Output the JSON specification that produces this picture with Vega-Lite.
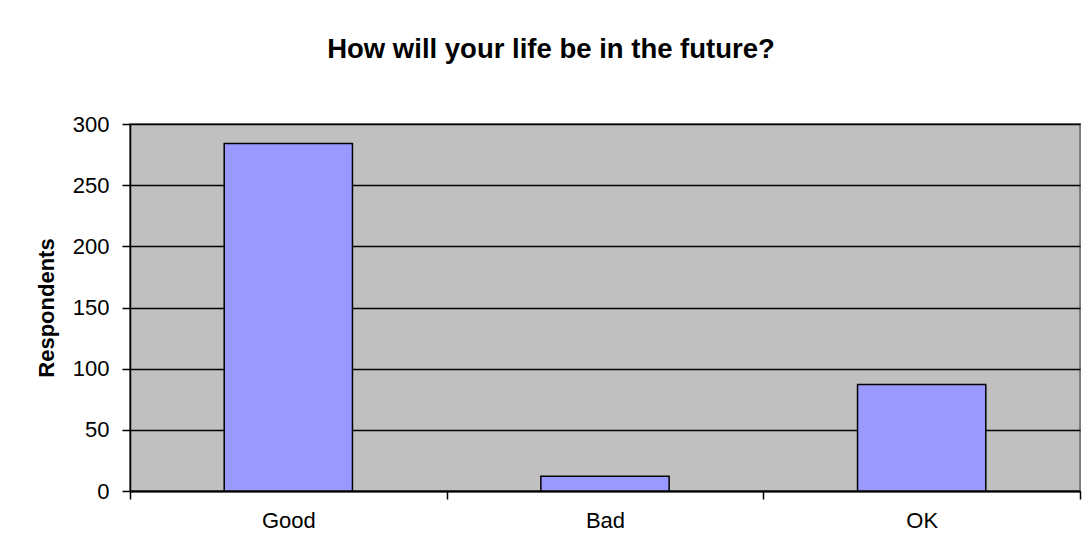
{
  "$schema": "https://vega.github.io/schema/vega-lite/v6.json",
  "width": 950,
  "height": 367,
  "autosize": {"type": "none"},
  "padding": {"left": 130, "top": 124, "right": 2, "bottom": 64},
  "background": "white",
  "title": {
    "text": "How will your life be in the future?",
    "font": "Liberation Sans",
    "fontSize": 27.5,
    "fontWeight": "bold",
    "color": "black",
    "anchor": "middle",
    "baseline": "alphabetic",
    "dx": -54,
    "offset": 28
  },
  "config": {
    "view": {"fill": "#C0C0C0", "stroke": "#808080", "strokeWidth": 2},
    "axis": {
      "labelFont": "Liberation Sans",
      "titleFont": "Liberation Sans",
      "labelColor": "black",
      "titleColor": "black",
      "domainColor": "black",
      "tickColor": "black",
      "labelFontSize": 22
    }
  },
  "data": {
    "values": [
      {"answer": "Good", "respondents": 284},
      {"answer": "Bad", "respondents": 12},
      {"answer": "OK", "respondents": 87}
    ]
  },
  "mark": {"type": "bar", "fill": "#9999FF", "stroke": "black", "strokeWidth": 1.5, "width": {"band": 0.405}},
  "encoding": {
    "x": {
      "field": "answer",
      "type": "nominal",
      "sort": null,
      "scale": {"paddingInner": 0, "paddingOuter": 0},
      "axis": {
        "title": null,
        "labelAngle": 0,
        "tickBand": "extent",
        "tickSize": 8,
        "tickWidth": 1.5,
        "domainWidth": 2,
        "labelPadding": 11,
        "grid": false
      }
    },
    "y": {
      "field": "respondents",
      "type": "quantitative",
      "scale": {"domain": [0, 300]},
      "axis": {
        "title": "Respondents",
        "titleFontSize": 22,
        "titleFontWeight": "bold",
        "titlePadding": 14,
        "values": [0, 50, 100, 150, 200, 250, 300],
        "tickSize": 8,
        "tickWidth": 1.5,
        "domainWidth": 1.5,
        "labelPadding": 13,
        "grid": true,
        "gridColor": "black",
        "gridWidth": 1.5,
        "gridOpacity": 1
      }
    }
  }
}
